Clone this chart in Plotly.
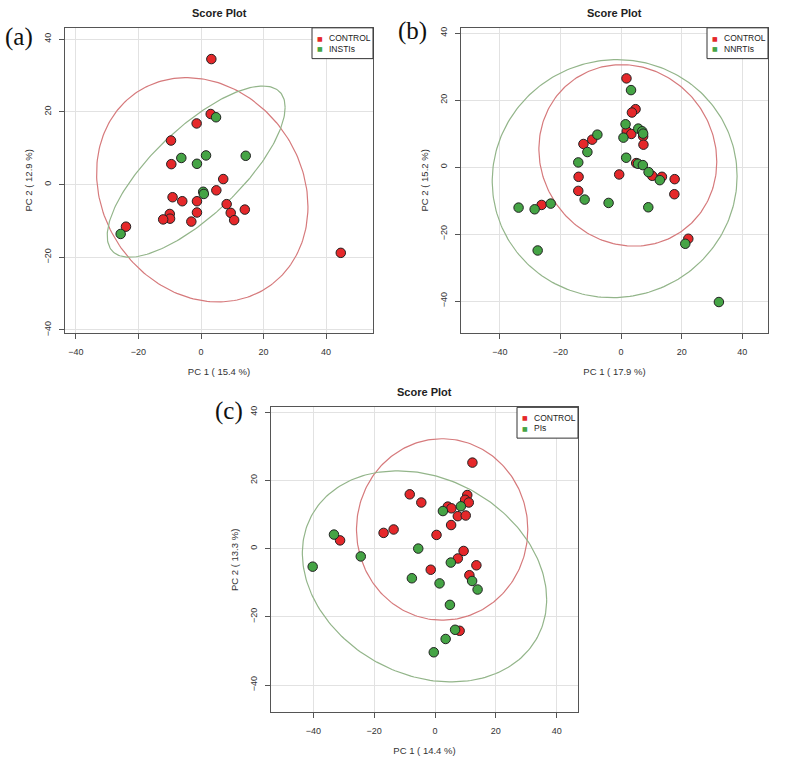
import numpy as np
import plotly.graph_objects as go

# ---------------- data ----------------
# Panel (a): CONTROL vs INSTIs
a_control_x = [3.3, 3.1, -1.4, -9.6, -9.5, 7.1, 4.9, -9.1, -6.0, -1.3, 8.2, 14.0, -1.3, 9.5,
               -10.0, -9.9, -12.1, -3.1, 10.6, -24.0, 44.7]
a_control_y = [34.5, 19.4, 16.8, 12.1, 5.6, 1.5, -1.6, -3.5, -4.6, -4.6, -5.4, -6.9, -7.7, -7.8,
               -8.1, -9.4, -9.6, -10.2, -9.8, -11.6, -18.8]
a_insti_x = [4.8, -6.3, 1.6, -1.3, 14.3, 0.7, 0.9, -25.7]
a_insti_y = [18.5, 7.3, 8.0, 5.7, 7.9, -2.0, -2.6, -13.6]

# Panel (b): CONTROL vs NNRTIs
b_control_x = [1.8, 4.8, 3.6, 1.9, 3.4, 7.3, 7.4, -12.4, -9.5, -14.0, -14.1, -0.6, 5.0, 10.3,
               13.5, 17.7, 17.6, -26.2, 22.2]
b_control_y = [26.5, 17.3, 16.3, 10.7, 9.9, 9.2, 6.7, 6.9, 8.2, -2.9, -7.1, -2.2, 1.2, -2.6,
               -2.9, -3.6, -8.1, -11.3, -21.4]
b_nnrti_x = [3.3, 1.5, 0.8, 5.7, 7.0, 7.3, -7.8, -11.1, -14.1, 1.7, 5.6, 7.2, 9.1, 12.8,
             -12.0, -4.1, 9.0, -33.8, -28.5, -23.2, -27.5, 21.2, 32.3]
b_nnrti_y = [23.0, 12.8, 8.8, 11.5, 10.7, 10.0, 9.7, 4.5, 1.4, 2.8, 1.0, 0.6, -1.5, -3.9,
             -9.7, -10.7, -12.0, -12.1, -12.6, -10.9, -24.9, -22.9, -40.3]

# Panel (c): CONTROL vs PIs
c_control_x = [12.3, -8.3, -4.5, 10.6, 9.9, 11.1, 4.2, 5.4, 7.5, 10.1, 5.3, 0.5, -16.9, -13.6,
               -31.2, 9.4, 7.5, 13.6, -1.4, 11.3, 8.1]
c_control_y = [25.2, 15.9, 13.5, 15.7, 14.3, 13.5, 12.3, 11.8, 9.5, 9.7, 6.9, 4.0, 4.6, 5.6,
               2.4, -0.7, -2.9, -4.9, -6.2, -7.8, -24.1]
c_pi_x = [2.6, 8.5, -33.2, -24.4, -40.2, -5.5, 5.2, -7.6, 1.5, 12.2, 14.0, 4.9, 6.6, 3.5, -0.4]
c_pi_y = [11.0, 12.4, 4.1, -2.3, -5.3, 0.0, -4.1, -8.7, -10.2, -9.5, -12.0, -16.5, -23.8, -26.5, -30.4]

# Confidence ellipses: [centre x, centre y, half-width x, half-height y, correlation]
a_control_ell = [0.4, -1.45, 33.8, 30.85, -0.15]
a_insti_ell = [-1.55, 3.55, 28.45, 23.55, 0.75]
b_control_ell = [2.25, 3.5, 29.35, 27.1, -0.07]
b_nnrti_ell = [-2.1, -3.45, 40.4, 35.55, 0.02]
c_control_ell = [2.35, 5.6, 28.15, 26.6, 0.0]
c_pi_ell = [-3.45, -8.15, 40.15, 30.95, -0.22]

group_names = ["CONTROL", "INSTIs", "NNRTIs", "PIs"]
panel_letters = ["(a)", "(b)", "(c)"]
x_titles = ["PC 1 ( 15.4 %)", "PC 1 ( 17.9 %)", "PC 1 ( 14.4 %)"]
y_titles = ["PC 2 ( 12.9 %)", "PC 2 ( 15.2 %)", "PC 2 ( 13.3 %)"]
tick_vals = [-40, -20, 0, 20, 40]

# ---------------- styling ----------------
W, H = 800, 767
RED = "#E5282A"
GREEN = "#45A445"
RED_LINE = "#D67A7C"
GREEN_LINE = "#93B58A"
FONT = "Liberation Sans, Arial, sans-serif"

# plot boxes in screen pixels (left, top, right, bottom)
boxes = [(65, 26, 373, 333), (461, 26, 768, 333), (271, 408, 578, 715)]
x_ranges = [[-43.5, 55], [-52.8, 48.5], [-53.9, 47]]
y_ranges = [[-40.8, 43.1], [-49.5, 41.6], [-48, 41.4]]
letter_pos = [(19, 35), (412, 29), (229, 412)]


def px_x(v):
    return v / W


def px_y(v):
    return 1 - v / H


def ellipse(p, n=240):
    cx, cy, sx, sy, r = p
    t = np.linspace(0, 2 * np.pi, n)
    return cx + sx * np.cos(t), cy + sy * (r * np.cos(t) + np.sqrt(1 - r * r) * np.sin(t))


fig = go.Figure()

panels = [
    (a_control_x, a_control_y, a_insti_x, a_insti_y, a_control_ell, a_insti_ell, group_names[1]),
    (b_control_x, b_control_y, b_nnrti_x, b_nnrti_y, b_control_ell, b_nnrti_ell, group_names[2]),
    (c_control_x, c_control_y, c_pi_x, c_pi_y, c_control_ell, c_pi_ell, group_names[3]),
]

annotations = []
shapes = []

for i, (cx_, cy_, gx, gy, cel, gel, gname) in enumerate(panels):
    sfx = "" if i == 0 else str(i + 1)
    xa, ya = "x" + sfx, "y" + sfx
    ex, ey = ellipse(cel)
    fig.add_trace(go.Scatter(x=ex, y=ey, mode="lines", line=dict(color=RED_LINE, width=1.2),
                             xaxis=xa, yaxis=ya, showlegend=False, hoverinfo="skip"))
    ex, ey = ellipse(gel)
    fig.add_trace(go.Scatter(x=ex, y=ey, mode="lines", line=dict(color=GREEN_LINE, width=1.2),
                             xaxis=xa, yaxis=ya, showlegend=False, hoverinfo="skip"))
    fig.add_trace(go.Scatter(x=cx_, y=cy_, mode="markers", name=group_names[0],
                             marker=dict(size=9.5, color=RED, line=dict(color="#222", width=1)),
                             xaxis=xa, yaxis=ya, showlegend=False))
    fig.add_trace(go.Scatter(x=gx, y=gy, mode="markers", name=gname,
                             marker=dict(size=9.5, color=GREEN, line=dict(color="#222", width=1)),
                             xaxis=xa, yaxis=ya, showlegend=False))

    L, T, R, B = boxes[i]
    axis_common = dict(showline=True, mirror=True, linecolor="#555", linewidth=1,
                       ticks="outside", ticklen=5, tickcolor="#555", tickvals=tick_vals,
                       showgrid=True, gridcolor="#e2e2e2", gridwidth=1, zeroline=False,
                       tickfont=dict(family=FONT, size=9, color="#333"))
    fig.update_layout(**{
        "xaxis" + sfx: dict(axis_common, domain=[px_x(L), px_x(R)], range=x_ranges[i],
                            anchor=ya, ticklabelstandoff=5,
                            title=dict(text=x_titles[i], standoff=12,
                                       font=dict(family=FONT, size=9.5, color="#333"))),
        "yaxis" + sfx: dict(axis_common, domain=[px_y(B), px_y(T)], range=y_ranges[i],
                            anchor=xa, tickangle=-90, ticklabelstandoff=4,
                            title=dict(text=y_titles[i], standoff=9,
                                       font=dict(family=FONT, size=9.5, color="#333"))),
    })

    # title
    annotations.append(dict(text="<b>Score Plot</b>", x=px_x((L + R) / 2), y=px_y(T - 15),
                            xref="paper", yref="paper", showarrow=False,
                            font=dict(family=FONT, size=11, color="#222"),
                            xanchor="center", yanchor="middle"))
    # panel letter
    lx, ly = letter_pos[i]
    annotations.append(dict(text=panel_letters[i], x=px_x(lx), y=px_y(ly), xref="paper",
                            yref="paper", showarrow=False,
                            font=dict(family="Liberation Serif, DejaVu Serif, serif", size=25,
                                      color="#111"),
                            xanchor="center", yanchor="middle"))
    # legend box
    shapes.append(dict(type="rect", xref="paper", yref="paper", x0=px_x(R - 61), x1=px_x(R),
                       y0=px_y(T + 31), y1=px_y(T), line=dict(color="#333", width=1),
                       fillcolor="white", layer="above"))
    for k, (nm, col) in enumerate([(group_names[0], RED), (gname, GREEN)]):
        yy = T + 10.5 + k * 10.5
        annotations.append(dict(text="■", x=px_x(R - 53), y=px_y(yy), xref="paper",
                                yref="paper", showarrow=False, xanchor="center",
                                yanchor="middle", font=dict(family="DejaVu Sans", size=6,
                                                            color=col)))
        annotations.append(dict(text=nm, x=px_x(R - 46), y=px_y(yy), xref="paper",
                                yref="paper", showarrow=False, xanchor="left",
                                yanchor="middle", font=dict(family=FONT, size=8.5,
                                                            color="#222")))

fig.update_layout(width=W, height=H, margin=dict(l=0, r=0, t=0, b=0),
                  paper_bgcolor="white", plot_bgcolor="white", showlegend=False,
                  annotations=annotations, shapes=shapes)

# remove the browser's default 8px page margin so the figure fills the window exactly
fig.write_html("out.html", config={"displayModeBar": False},
               post_script="document.body.style.margin='0';document.body.style.overflow='hidden';")
